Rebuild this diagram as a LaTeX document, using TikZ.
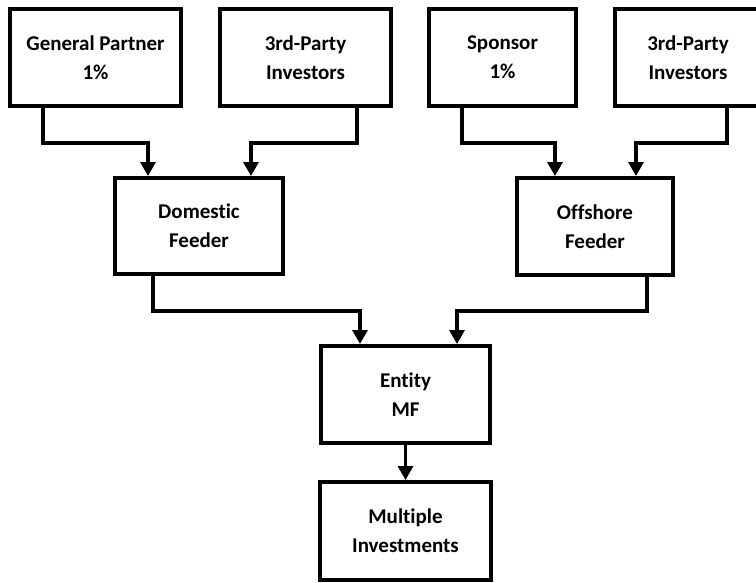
\documentclass[tikz,border=0pt]{standalone}
\usepackage{fontspec}
\setmainfont[Ligatures=NoCommon]{Carlito}
\usetikzlibrary{arrows.meta}
\tikzset{
  box/.style={draw=black, line width=4pt, fill=white, inner sep=0pt, align=center,
    font=\fontsize{21}{29}\selectfont\bfseries},
  conn/.style={draw=black, line width=3.3pt, -{Triangle[width=15pt,length=14pt]}},
}
\begin{document}
\begin{tikzpicture}[x=1pt,y=1pt]
\useasboundingbox (0,0) rectangle (756,-582);
\begin{scope}
\clip (0,0) rectangle (756,-582);
\node[box, minimum width=171pt, minimum height=97pt] (gp) at (95.5,-57.5) {General Partner\\1\%};
\node[box, minimum width=171pt, minimum height=97pt] (tpl) at (305.5,-57.5) {3rd-Party\\Investors};
\node[box, minimum width=147pt, minimum height=97pt] (sp) at (502.5,-57.5) {Sponsor\\1\%};
\node[box, minimum width=146pt, minimum height=97pt] (tpr) at (688,-57.5) {3rd-Party\\Investors};
\node[box, minimum width=168pt, minimum height=96pt] (dom) at (199,-226) {Domestic\\Feeder};
\node[box, minimum width=156pt, minimum height=97pt] (off) at (595,-226.5) {Offshore\\Feeder};
\node[box, minimum width=169pt, minimum height=97pt] (mf) at (405.5,-394.5) {Entity\\MF};
\node[box, minimum width=171pt, minimum height=98pt] (inv) at (405.5,-531) {Multiple\\Investments};

\draw[conn] ([xshift=-52.5pt]gp.south) -- ++(0,-35) -| ([xshift=-51pt]dom.north);
\draw[conn] ([xshift=51.5pt]tpl.south) -- ++(0,-35) -| ([xshift=52pt]dom.north);
\draw[conn] ([xshift=-40.5pt]sp.south) -- ++(0,-35) -| ([xshift=-40pt]off.north);
\draw[conn] ([xshift=39pt]tpr.south) -- ++(0,-35) -| ([xshift=41pt]off.north);
\draw[conn] ([xshift=-46pt]dom.south) -- ++(0,-35) -| ([xshift=-45.5pt]mf.north);
\draw[conn] ([xshift=52pt]off.south) -- ++(0,-34) -| ([xshift=51.5pt]mf.north);
\draw[conn] (mf.south) -- (inv.north);
\end{scope}
\end{tikzpicture}
\end{document}
